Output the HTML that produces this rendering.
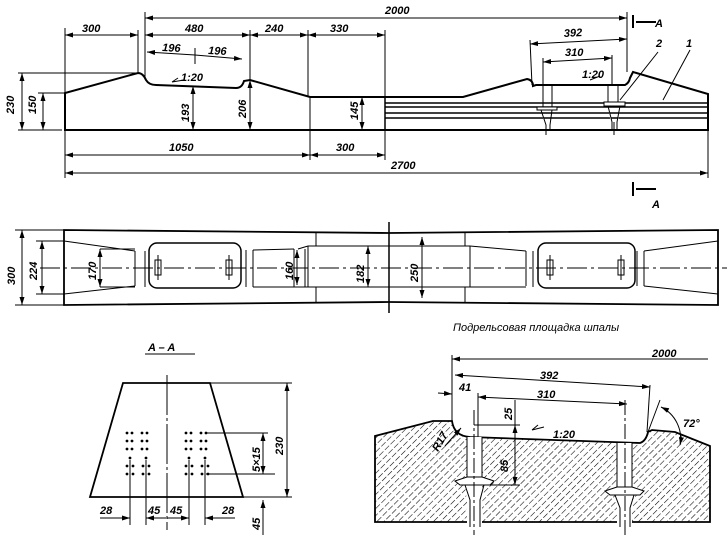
<!DOCTYPE html>
<html><head><meta charset="utf-8"><style>
html,body{margin:0;padding:0;background:#fff}
svg{display:block}
text{font-family:"Liberation Sans",sans-serif;font-style:italic;font-weight:bold;font-size:11px;fill:#000}
</style></head><body>
<svg width="727" height="542" viewBox="0 0 727 542" xmlns="http://www.w3.org/2000/svg">
<defs>
<marker id="a" markerWidth="8" markerHeight="6" refX="8" refY="3" orient="auto-start-reverse" markerUnits="userSpaceOnUse"><path d="M0,0.5 L8,3 L0,5.5z" fill="#000"/></marker>
<pattern id="h" width="5" height="8" patternUnits="userSpaceOnUse" patternTransform="rotate(45)"><line x1="0" y1="0" x2="0" y2="6" stroke="#000" stroke-width="1.1"/></pattern>
</defs>
<g stroke="#000" fill="none" stroke-width="1">
<!-- SIDE VIEW -->
<path d="M65,130 V93 L138,73 Q143,73 146,80 Q149,85 156,85 L236,88 Q242,88 244,81 L250,80 L310,97 L463,97 L527,79 Q533,80 533,86 L536,85 L625,85 Q629,83 630,78 L633,72 L708,94 V130 Z" stroke-width="2"/>
<line x1="310" y1="97" x2="310" y2="130"/>
<g stroke-width="1.5"><line x1="385" y1="103" x2="708" y2="103"/><line x1="385" y1="107" x2="708" y2="107"/><line x1="385" y1="113" x2="708" y2="113"/><line x1="385" y1="118" x2="708" y2="118"/><line x1="385" y1="97" x2="385" y2="130"/></g>
<path d="M543,86 V107 M552,86 V107 M537,107 H557 V110 H537 Z M541,110 L546,125 V130 M552,110 L550,125 V130" fill="#fff"/>
<path d="M608,86 V102 M618,86 V102 M604,102 H625 V106 H604 Z M608,106 L612,122 V130 M620,106 L617,122 V130" fill="#fff"/>
<line x1="546" y1="125" x2="546" y2="135"/><line x1="614" y1="122" x2="614" y2="135"/>
<line x1="145" y1="12" x2="145" y2="78"/><line x1="627" y1="12" x2="627" y2="72"/>
<line x1="145" y1="18" x2="627" y2="18" marker-start="url(#a)" marker-end="url(#a)"/>
<line x1="65" y1="28" x2="65" y2="178"/><line x1="138" y1="30" x2="138" y2="72"/><line x1="250" y1="30" x2="250" y2="80"/><line x1="308" y1="30" x2="308" y2="97"/><line x1="385" y1="30" x2="385" y2="97"/>
<line x1="65" y1="35" x2="138" y2="35" marker-start="url(#a)" marker-end="url(#a)"/>
<line x1="145" y1="35" x2="250" y2="35" marker-start="url(#a)" marker-end="url(#a)"/>
<line x1="250" y1="35" x2="308" y2="35" marker-start="url(#a)" marker-end="url(#a)"/>
<line x1="308" y1="35" x2="385" y2="35" marker-start="url(#a)" marker-end="url(#a)"/>
<line x1="147" y1="52" x2="195" y2="55" marker-start="url(#a)"/><line x1="195" y1="55" x2="242" y2="59" marker-end="url(#a)"/><line x1="195" y1="48" x2="195" y2="64"/>
<line x1="18" y1="73" x2="138" y2="73"/><line x1="38" y1="93" x2="65" y2="93"/><line x1="18" y1="130" x2="62" y2="130"/>
<line x1="22" y1="73" x2="22" y2="130" marker-start="url(#a)" marker-end="url(#a)"/>
<line x1="43" y1="93" x2="43" y2="130" marker-start="url(#a)" marker-end="url(#a)"/>
<line x1="193" y1="86" x2="193" y2="130" marker-start="url(#a)" marker-end="url(#a)"/>
<line x1="250" y1="80" x2="250" y2="130" marker-start="url(#a)" marker-end="url(#a)"/>
<line x1="362" y1="97" x2="362" y2="130" marker-start="url(#a)" marker-end="url(#a)"/>
<line x1="310" y1="130" x2="310" y2="160"/><line x1="385" y1="130" x2="385" y2="160"/><line x1="708" y1="130" x2="708" y2="178"/>
<line x1="65" y1="155" x2="310" y2="155" marker-start="url(#a)" marker-end="url(#a)"/>
<line x1="310" y1="155" x2="385" y2="155" marker-start="url(#a)" marker-end="url(#a)"/>
<line x1="65" y1="173" x2="708" y2="173" marker-start="url(#a)" marker-end="url(#a)"/>
<line x1="530" y1="40" x2="532" y2="85"/><line x1="543" y1="58" x2="543" y2="86"/><line x1="612" y1="55" x2="612" y2="86"/>
<line x1="530" y1="44" x2="627" y2="39" marker-start="url(#a)" marker-end="url(#a)"/>
<line x1="543" y1="62" x2="612" y2="58" marker-start="url(#a)" marker-end="url(#a)"/>
<path d="M633,15 V28 M636,22 H656" stroke-width="2"/><path d="M633,182 V196 M636,189 H656" stroke-width="2"/>
<path d="M620,100 L658,52 M663,100 L690,50"/>
<path d="M172,82 L184,80 M172,82 L178,78"/><path d="M590,80 L600,76"/>
<!-- TOP VIEW -->
<path d="M64,230 L389,233 L718,230 V305 L389,302 L64,305 Z" stroke-width="1.8"/>
<path d="M64,241 L135,251 M64,294 L135,286 M718,241 L644,251 M718,294 L644,286"/>
<path d="M135,251 V286 M145,251 V287 M526,251 V286 M533,251 V287 M637,251 V286 M644,251 V286"/>
<path d="M253,250 L294,249 M298,249 L308,246 M470,246 L526,251 M253,287 L308,287 M470,287 L526,287"/>
<rect x="149" y="243" width="92" height="45" rx="8" stroke-width="1.5"/>
<rect x="538" y="243" width="97" height="45" rx="8" stroke-width="1.5"/>
<path d="M246,250 V287 M253,250 V287 M294,249 V287 M305,249 V287"/>
<path d="M316,232 V246 M465,232 V246 M316,287 V303 M465,287 V303"/>
<path d="M308,246 H470 M308,287 H470 M308,246 V287 M470,246 V287"/>
<line x1="389" y1="222" x2="389" y2="313" stroke-width="1.5"/>
<line x1="40" y1="268" x2="727" y2="268" stroke-dasharray="20,4,3,4"/>
<rect x="155" y="260" width="6" height="15"/><rect x="226" y="260" width="6" height="15"/><rect x="547" y="260" width="6" height="15"/><rect x="618" y="260" width="6" height="15"/>
<line x1="158" y1="255" x2="158" y2="280"/><line x1="229" y1="255" x2="229" y2="280"/><line x1="550" y1="255" x2="550" y2="280"/><line x1="621" y1="255" x2="621" y2="280"/>
<line x1="15" y1="230" x2="64" y2="230"/><line x1="15" y1="305" x2="64" y2="305"/><line x1="36" y1="241" x2="64" y2="241"/><line x1="36" y1="294" x2="64" y2="294"/>
<line x1="22" y1="230" x2="22" y2="305" marker-start="url(#a)" marker-end="url(#a)"/>
<line x1="42" y1="241" x2="42" y2="294" marker-start="url(#a)" marker-end="url(#a)"/>
<line x1="100" y1="249" x2="100" y2="287" marker-start="url(#a)" marker-end="url(#a)"/><line x1="100" y1="249" x2="135" y2="249"/><line x1="100" y1="287" x2="135" y2="287"/>
<line x1="297" y1="250" x2="297" y2="285" marker-start="url(#a)" marker-end="url(#a)"/>
<line x1="368" y1="246" x2="368" y2="287" marker-start="url(#a)" marker-end="url(#a)"/>
<line x1="422" y1="237" x2="422" y2="298" marker-start="url(#a)" marker-end="url(#a)"/>
<!-- SECTION A-A -->
<line x1="145" y1="354" x2="195" y2="354"/>
<path d="M123,383 H210 L243,497 H90 Z" stroke-width="1.8"/>
<line x1="167" y1="375" x2="167" y2="530" stroke-dasharray="40,3,3,3"/>
<line x1="210" y1="383" x2="292" y2="383"/><line x1="243" y1="497" x2="292" y2="497"/>
<line x1="287" y1="383" x2="287" y2="497" marker-start="url(#a)" marker-end="url(#a)"/>
<line x1="263" y1="500" x2="263" y2="535" marker-start="url(#a)"/>
<line x1="263" y1="433" x2="263" y2="474" marker-start="url(#a)" marker-end="url(#a)"/>
<line x1="206" y1="433" x2="268" y2="433"/><line x1="206" y1="474" x2="275" y2="474"/>
<path d="M130,460 V525 M146,460 V525 M189,460 V525 M205,460 V525"/>
<line x1="100" y1="518" x2="130" y2="518" marker-end="url(#a)"/><line x1="146" y1="518" x2="166" y2="518" marker-start="url(#a)"/>
<line x1="167" y1="518" x2="189" y2="518" marker-end="url(#a)"/><line x1="205" y1="518" x2="235" y2="518" marker-start="url(#a)"/>
<!-- RAIL SEAT SECTION -->
<path d="M375,436 L433,421 L452,421 Q454,436 470,437 L640,443 Q646,441 648,432 L652,430 L675,432 L710,446 V522 H375 Z" fill="url(#h)" stroke-width="1.8"/>
<rect x="467" y="437" width="15" height="90" fill="#fff" stroke="none"/><rect x="617" y="443" width="15" height="84" fill="#fff" stroke="none"/>
<path d="M467,437 V478 M482,437 V478 M617,443 V488 M632,443 V488"/>
<path d="M455,481 L467,477 H482 L494,481 L490,485 H460 Z M465,485 L470,500 V527 M484,485 L480,500 V527" fill="#fff"/>
<path d="M605,491 L617,487 H632 L644,491 L640,495 H610 Z M615,495 L620,508 V527 M634,495 L630,508 V527" fill="#fff"/>
<line x1="474" y1="410" x2="474" y2="535" stroke-dasharray="15,3,3,3"/><line x1="625" y1="400" x2="625" y2="535" stroke-dasharray="15,3,3,3"/>
<line x1="452" y1="355" x2="452" y2="421"/><line x1="650" y1="385" x2="647" y2="432"/>
<line x1="452" y1="359" x2="708" y2="359" marker-start="url(#a)"/>
<line x1="455" y1="375" x2="650" y2="387" marker-start="url(#a)" marker-end="url(#a)"/>
<line x1="478" y1="397" x2="627" y2="404" marker-start="url(#a)" marker-end="url(#a)"/>
<line x1="438" y1="393" x2="452" y2="394" marker-end="url(#a)"/>
<line x1="478" y1="393" x2="478" y2="437"/>
<line x1="515" y1="400" x2="515" y2="485" marker-end="url(#a)"/><line x1="474" y1="425" x2="520" y2="425"/><line x1="480" y1="485" x2="520" y2="485"/>
<line x1="515" y1="425" x2="515" y2="438" marker-start="url(#a)"/>
<path d="M648,432 L660,400" /><path d="M661,407 A35,35 0 0 1 680,445" marker-start="url(#a)" marker-end="url(#a)"/>
<line x1="445" y1="446" x2="461" y2="428" marker-end="url(#a)"/>
<path d="M532,430 L544,427 M532,430 L538,425"/>
</g>
<g fill="#000">
<g id="dg">
<circle cx="127" cy="433" r="1.4"/><circle cx="132" cy="433" r="1.4"/><circle cx="142" cy="433" r="1.4"/><circle cx="147" cy="433" r="1.4"/>
<circle cx="127" cy="441" r="1.4"/><circle cx="132" cy="441" r="1.4"/><circle cx="142" cy="441" r="1.4"/><circle cx="147" cy="441" r="1.4"/>
<circle cx="127" cy="449" r="1.4"/><circle cx="132" cy="449" r="1.4"/><circle cx="142" cy="449" r="1.4"/><circle cx="147" cy="449" r="1.4"/>
<circle cx="130" cy="458" r="1.4"/><circle cx="146" cy="458" r="1.4"/>
<circle cx="127" cy="466" r="1.4"/><circle cx="133" cy="466" r="1.4"/><circle cx="143" cy="466" r="1.4"/><circle cx="149" cy="466" r="1.4"/>
<circle cx="127" cy="474" r="1.4"/><circle cx="133" cy="474" r="1.4"/><circle cx="143" cy="474" r="1.4"/><circle cx="149" cy="474" r="1.4"/>
</g>
<use href="#dg" x="59"/>
</g>
<text x="82" y="32">300</text><text x="185" y="32">480</text><text x="265" y="32">240</text><text x="330" y="32">330</text>
<text x="385" y="14">2000</text>
<text x="162" y="51" transform="rotate(3 162 51)">196</text><text x="208" y="54" transform="rotate(3 208 54)">196</text>
<text x="181" y="81">1:20</text>
<text transform="translate(14,114) rotate(-90)">230</text><text transform="translate(36,114) rotate(-90)">150</text>
<text transform="translate(189,122) rotate(-90)">193</text><text transform="translate(246,118) rotate(-90)">206</text><text transform="translate(358,120) rotate(-90)">145</text>
<text x="169" y="151">1050</text><text x="336" y="151">300</text><text x="391" y="169">2700</text>
<text x="564" y="37" transform="rotate(-3 564 37)">392</text><text x="565" y="56">310</text><text x="582" y="78">1:20</text>
<text x="655" y="27">A</text><text x="652" y="208">A</text><text x="656" y="47">2</text><text x="686" y="47">1</text>
<text transform="translate(15,285) rotate(-90)">300</text><text transform="translate(37,280) rotate(-90)">224</text>
<text transform="translate(96,280) rotate(-90)">170</text><text transform="translate(293,280) rotate(-90)">160</text>
<text transform="translate(364,283) rotate(-90)">182</text><text transform="translate(418,282) rotate(-90)">250</text>
<text x="148" y="351">A – A</text>
<text transform="translate(283,455) rotate(-90)">230</text><text transform="translate(260,472) rotate(-90)">5×15</text><text transform="translate(260,530) rotate(-90)">45</text>
<text x="100" y="514">28</text><text x="148" y="514">45</text><text x="170" y="514">45</text><text x="222" y="514">28</text>
<text x="453" y="331" font-size="10" style="font-weight:normal">Подрельсовая площадка шпалы</text>
<text x="652" y="357">2000</text><text x="540" y="379">392</text><text x="537" y="398">310</text>
<text x="459" y="391">41</text><text transform="translate(512,420) rotate(-90)">25</text><text transform="translate(508,472) rotate(-90)">85</text>
<text x="553" y="438">1:20</text><text x="683" y="427">72°</text><text transform="translate(438,452) rotate(-60)">R17</text>
</svg>
</body></html>
